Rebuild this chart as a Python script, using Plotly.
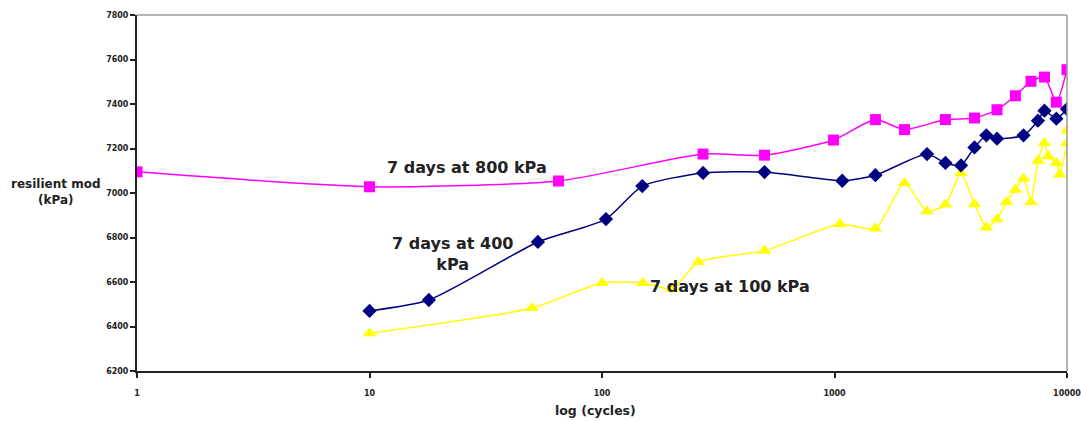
import plotly.graph_objects as go

# Data
x800 = [1, 10, 65, 272, 500, 990, 1500, 2000, 3000, 4000, 5000, 6000, 7000, 8000, 9000, 10000]
y800 = [7095, 7028, 7054, 7175, 7170, 7238, 7330, 7285, 7330, 7337, 7374, 7437, 7502, 7521, 7408, 7554]

x400 = [10, 18, 53, 104, 149, 272, 500, 1080, 1500, 2500, 3000, 3500, 4000, 4500, 5000, 6500, 7500, 8000, 9000, 10000]
y400 = [6470, 6519, 6780, 6883, 7031, 7090, 7094, 7055, 7080, 7175, 7135, 7124, 7205, 7259, 7244, 7259, 7325, 7370, 7334, 7377]

x100 = [10, 50, 100, 150, 200, 260, 500, 1056, 1500, 2000, 2500, 3000, 3500, 4000, 4500, 5000, 5500, 6000, 6500, 7000, 7500, 8000, 8300, 9000, 9300, 10000, 10000]
y100 = [6370, 6483, 6596, 6596, 6569, 6690, 6741, 6861, 6840, 7045, 6918, 6948, 7090, 6950, 6845, 6882, 6960, 7015, 7065, 6960, 7145, 7225, 7165, 7135, 7083, 7225, 7282]

y_ticks = [6200, 6400, 6600, 6800, 7000, 7200, 7400, 7600, 7800]
x_ticks = [1, 10, 100, 1000, 10000]

FONT = "DejaVu Sans, Arial, sans-serif"

fig = go.Figure()

fig.add_trace(go.Scatter(
    x=x100, y=y100, mode="lines+markers",
    line=dict(color="#FFFF00", width=1.5, shape="spline", smoothing=0.6),
    marker=dict(symbol="triangle-up", size=12, color="#FFFF00"),
    showlegend=False))
fig.add_trace(go.Scatter(
    x=x400, y=y400, mode="lines+markers",
    line=dict(color="#000080", width=1.5, shape="spline", smoothing=0.6),
    marker=dict(symbol="diamond", size=11, color="#000080"),
    showlegend=False))
fig.add_trace(go.Scatter(
    x=x800, y=y800, mode="lines+markers",
    line=dict(color="#FF00FF", width=1.5, shape="spline", smoothing=0.6),
    marker=dict(symbol="square", size=11, color="#FF00FF"),
    showlegend=False))

fig.update_layout(
    width=1081, height=421, autosize=False,
    margin=dict(l=137, r=14, t=15, b=50, autoexpand=False),
    paper_bgcolor="white", plot_bgcolor="white",
    font=dict(family=FONT, color="#222"),
    xaxis=dict(
        type="log", range=[0, 4], automargin=False,
        tickvals=x_ticks, ticktext=["<b>%d</b>" % v for v in x_ticks],
        showgrid=False, zeroline=False,
        showline=True, linecolor="#222", linewidth=2,
        ticks="outside", ticklen=5, tickcolor="#222", tickwidth=1.5,
        tickfont=dict(size=8, family=FONT), ticklabelstandoff=8,
        ticklabeloverflow="allow",
    ),
    yaxis=dict(
        range=[6200, 7800], automargin=False,
        tickvals=y_ticks, ticktext=["<b>%d</b>" % v for v in y_ticks],
        showgrid=False, zeroline=False,
        showline=True, linecolor="#222", linewidth=2,
        ticks="outside", ticklen=5, tickcolor="#222", tickwidth=1.5,
        tickfont=dict(size=8, family=FONT), ticklabeloverflow="allow",
    ),
    shapes=[
        dict(type="line", xref="paper", yref="paper", x0=0, x1=1, y0=1, y1=1,
             line=dict(color="#999", width=1.5)),
        dict(type="line", xref="paper", yref="paper", x0=1, x1=1, y0=0, y1=1,
             line=dict(color="#999", width=1.5)),
    ],
    annotations=[
        dict(text="<b>resilient mod</b><br><b>(kPa)</b>", xref="paper", yref="paper",
             x=-0.088, y=0.503, xanchor="center", yanchor="middle",
             showarrow=False, font=dict(size=12, family=FONT)),
        dict(text="<b>log (cycles)</b>", xref="paper", yref="paper",
             x=0.4925, y=-0.112, xanchor="center", yanchor="middle",
             showarrow=False, font=dict(size=12.5, family=FONT)),
        dict(text="<b>7 days at 800 kPa</b>", x=1.42, y=7115, xref="x", yref="y",
             showarrow=False, font=dict(size=16, family=FONT)),
        dict(text="<b>7 days at 400<br>kPa</b>", x=1.355, y=6725, xref="x", yref="y",
             showarrow=False, font=dict(size=16, family=FONT)),
        dict(text="<b>7 days at 100 kPa</b>", x=2.55, y=6582, xref="x", yref="y",
             showarrow=False, font=dict(size=16, family=FONT)),
    ],
)

fig.write_html("out.html")
